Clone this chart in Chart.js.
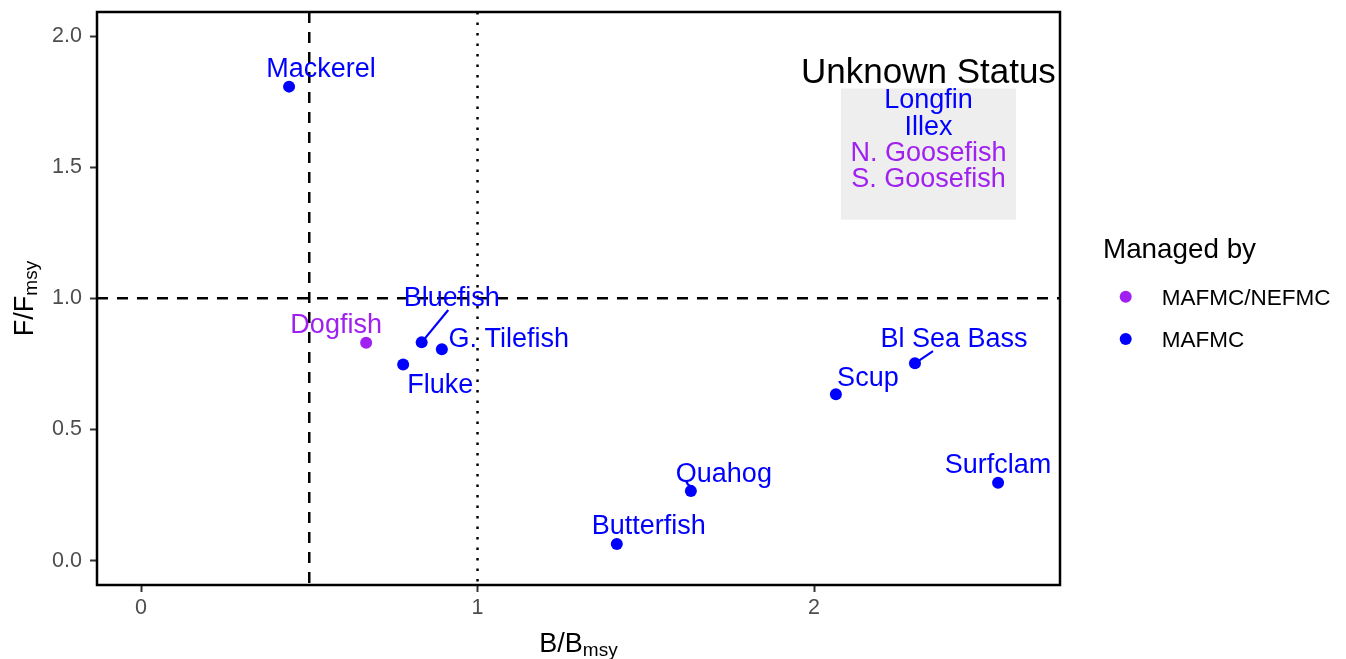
<!DOCTYPE html>
<html>
<head>
<meta charset="utf-8">
<script src="https://cdn.jsdelivr.net/npm/chart.js@4.4.0/dist/chart.umd.min.js"></script>
<style>
  html, body { margin: 0; padding: 0; background: #fff; }
  canvas { display: block; }
</style>
</head>
<body>
<canvas id="kobe" width="1346" height="659"></canvas>
<script>
//--- Data.
const species = ['Mackerel', 'Dogfish', 'Bluefish', 'G. Tilefish', 'Fluke', 'Scup', 'Bl Sea Bass', 'Surfclam', 'Quahog', 'Butterfish'];
const bRatio = [0.440, 0.669, 0.834, 0.894, 0.779, 2.065, 2.300, 2.547, 1.634, 1.414];
const fRatio = [1.807, 0.831, 0.832, 0.806, 0.748, 0.634, 0.752, 0.297, 0.265, 0.063];
const managedBy = ['MAFMC', 'MAFMC/NEFMC', 'MAFMC', 'MAFMC', 'MAFMC', 'MAFMC', 'MAFMC', 'MAFMC', 'MAFMC', 'MAFMC'];
const councils = ['MAFMC/NEFMC', 'MAFMC'];
const unknownSpecies = ['Longfin', 'Illex', 'N. Goosefish', 'S. Goosefish'];
const unknownManagedBy = ['MAFMC', 'MAFMC', 'MAFMC/NEFMC', 'MAFMC/NEFMC'];
const unknownBox = [2.08, 1.30, 2.60, 1.80];   // xmin, ymin, xmax, ymax
const xTicks = [0, 1, 2];
const yTicks = [0, 0.5, 1, 1.5, 2];
const bLimit = 0.5;
const bTarget = 1;
const fLimit = 1;

const councilColors = { 'MAFMC/NEFMC': '#A020F0', 'MAFMC': '#0000FF' };
const FONT = '"Liberation Sans", Arial, Helvetica, sans-serif';

Chart.defaults.font.family = FONT;

//--- Labels, reference lines, box, legend.
const kobeDecor = {
  id: 'kobeDecor',
  beforeDatasetsDraw(chart) {
    const { ctx, chartArea: a, scales: { x, y } } = chart;
    ctx.save();
    ctx.beginPath();
    ctx.rect(a.left, a.top, a.right - a.left, a.bottom - a.top);
    ctx.clip();

    // Unknown status box.
    const bx0 = x.getPixelForValue(unknownBox[0]);
    const bx1 = x.getPixelForValue(unknownBox[2]);
    const by0 = y.getPixelForValue(unknownBox[3]);
    const by1 = y.getPixelForValue(unknownBox[1]);
    ctx.fillStyle = '#EEEEEE';
    ctx.fillRect(bx0, by0, bx1 - bx0, by1 - by0);

    ctx.strokeStyle = '#000';
    ctx.lineWidth = 2.5;

    // B limit (dashed).
    ctx.setLineDash([11, 9]);
    ctx.beginPath();
    ctx.moveTo(x.getPixelForValue(bLimit), a.top);
    ctx.lineTo(x.getPixelForValue(bLimit), a.bottom);
    ctx.stroke();

    // F limit (dashed).
    ctx.beginPath();
    ctx.moveTo(a.left, y.getPixelForValue(fLimit));
    ctx.lineTo(a.right, y.getPixelForValue(fLimit));
    ctx.stroke();

    // B target (dotted).
    ctx.setLineDash([2.5, 8]);
    ctx.beginPath();
    ctx.moveTo(x.getPixelForValue(bTarget), a.top);
    ctx.lineTo(x.getPixelForValue(bTarget), a.bottom);
    ctx.stroke();
    ctx.restore();

    // Box texts.
    const cx = (bx0 + bx1) / 2;
    ctx.save();
    ctx.textAlign = 'center';
    ctx.textBaseline = 'alphabetic';
    ctx.fillStyle = '#000';
    ctx.font = '35px ' + FONT;
    ctx.fillText('Unknown Status', cx, by0 - 5);
    ctx.font = '27px ' + FONT;
    unknownSpecies.forEach((name, i) => {
      ctx.fillStyle = councilColors[unknownManagedBy[i]];
      ctx.fillText(name, cx, by0 + 20 + i * 26.1);
    });
    ctx.restore();
  },
  afterDatasetsDraw(chart, args, opts) {
    const { ctx } = chart;
    ctx.save();
    ctx.font = '27px ' + FONT;
    ctx.textAlign = 'center';
    ctx.textBaseline = 'alphabetic';
    chart.data.datasets.forEach((ds, di) => {
      chart.getDatasetMeta(di).data.forEach((pt, i) => {
        const name = ds.data[i].name;
        const off = opts.offsets[name] || [0, -10];
        ctx.fillStyle = ds.backgroundColor;
        ctx.strokeStyle = ds.backgroundColor;
        const seg = opts.segments[name];
        if (seg) {
          ctx.lineWidth = 2.2;
          ctx.beginPath();
          ctx.moveTo(pt.x, pt.y);
          ctx.lineTo(pt.x + seg[0], pt.y + seg[1]);
          ctx.stroke();
        }
        ctx.fillText(name, pt.x + off[0], pt.y + off[1]);
      });
    });
    ctx.restore();
  },
  afterDraw(chart) {
    const { ctx, chartArea: a } = chart;
    ctx.save();

    // Panel border.
    ctx.strokeStyle = '#000';
    ctx.lineWidth = 2.5;
    ctx.strokeRect(a.left, a.top, a.right - a.left, a.bottom - a.top);

    // Axis titles with subscripts.
    const subTitle = (main, sub, px, py, rot) => {
      ctx.save();
      ctx.translate(px, py);
      ctx.rotate(rot);
      ctx.fillStyle = '#000';
      ctx.textBaseline = 'alphabetic';
      ctx.textAlign = 'left';
      ctx.font = '27px ' + FONT;
      const w1 = ctx.measureText(main).width;
      ctx.font = '19px ' + FONT;
      const w2 = ctx.measureText(sub).width;
      const start = -(w1 + w2) / 2;
      ctx.font = '27px ' + FONT;
      ctx.fillText(main, start, 0);
      ctx.font = '19px ' + FONT;
      ctx.fillText(sub, start + w1, 4);
      ctx.restore();
    };
    subTitle('B/B', 'msy', (a.left + a.right) / 2, 652, 0);
    subTitle('F/F', 'msy', 33, (a.top + a.bottom) / 2, -Math.PI / 2);

    // Legend.
    const lx = a.right + 43;
    ctx.fillStyle = '#000';
    ctx.font = '27.8px ' + FONT;
    ctx.textAlign = 'left';
    ctx.textBaseline = 'alphabetic';
    ctx.fillText('Managed by', lx, 257.7);
    ctx.font = '22.5px ' + FONT;
    councils.forEach((c, i) => {
      const ly = 296.7 + i * 42.3;
      ctx.fillStyle = councilColors[c];
      ctx.beginPath();
      ctx.arc(lx + 22.7, ly, 6, 0, Math.PI * 2);
      ctx.fill();
      ctx.fillStyle = '#000';
      ctx.fillText(c, lx + 58.7, ly + 7.8);
    });
    ctx.restore();
  }
};

const datasets = councils.map(c => ({
  label: c,
  data: species
    .map((name, i) => ({ x: bRatio[i], y: fRatio[i], name, m: managedBy[i] }))
    .filter(p => p.m === c),
  backgroundColor: councilColors[c],
  borderWidth: 0,
  pointRadius: 6,
  pointHoverRadius: 6
}));

new Chart(document.getElementById('kobe'), {
  type: 'scatter',
  data: { datasets },
  options: {
    responsive: false,
    animation: false,
    layout: { padding: { left: 0, top: 12, right: 286, bottom: 0 } },
    scales: {
      x: {
        type: 'linear',
        min: -0.1308,
        max: 2.731,
        afterBuildTicks: s => { s.ticks = xTicks.map(v => ({ value: v })); },
        afterFit: s => { s.height = 74; s.paddingLeft = 0; s.paddingRight = 0; },
        border: { display: false },
        grid: { drawOnChartArea: false, drawTicks: true, tickLength: 7, tickWidth: 2, tickColor: '#333333' },
        ticks: { color: '#4D4D4D', font: { size: 21.5 }, padding: 3, maxRotation: 0, callback: v => String(v) }
      },
      y: {
        type: 'linear',
        min: -0.093,
        max: 2.0915,
        afterBuildTicks: s => { s.ticks = yTicks.map(v => ({ value: v })); },
        afterFit: s => { s.width = 97; s.paddingTop = 0; s.paddingBottom = 0; },
        border: { display: false },
        grid: { drawOnChartArea: false, drawTicks: true, tickLength: 7, tickWidth: 2, tickColor: '#333333' },
        ticks: { color: '#4D4D4D', font: { size: 21.5 }, padding: 8, callback: v => v.toFixed(1) }
      }
    },
    plugins: {
      legend: { display: false },
      tooltip: { enabled: false },
      kobeDecor: {
        offsets: {
          'Mackerel': [32, -10],
          'Dogfish': [-30, -9.4],
          'Bluefish': [30, -36.3],
          'G. Tilefish': [67, -2.6],
          'Fluke': [37, 29],
          'Scup': [32, -8.3],
          'Bl Sea Bass': [39, -16.6],
          'Surfclam': [0, -10],
          'Quahog': [33, -9.3],
          'Butterfish': [32, -10]
        },
        segments: {
          'Bluefish': [26.6, -32.3],
          'Bl Sea Bass': [18, -12.3]
        }
      }
    }
  },
  plugins: [kobeDecor]
});
</script>
</body>
</html>
